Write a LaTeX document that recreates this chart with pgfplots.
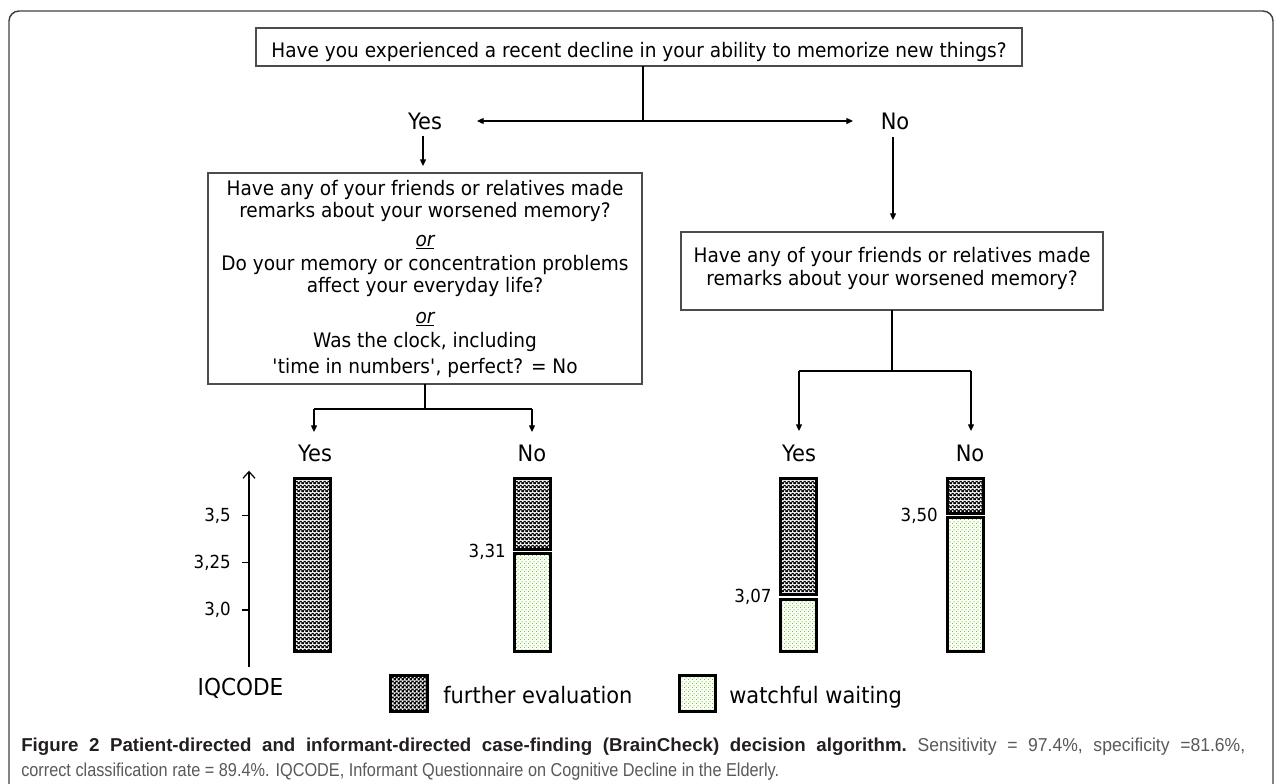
\documentclass[border=0pt]{standalone}
\usepackage{pgfplots}
\pgfplotsset{compat=1.18}
\usepackage{graphicx}
\usepackage{fontspec}
\setmainfont{DejaVu Sans}[FakeStretch=0.925]
\newfontfamily\capfont{Liberation Sans}[FakeStretch=0.85]
\usetikzlibrary{patterns,arrows.meta}

\definecolor{dotgreen}{RGB}{110,200,30}
\definecolor{capdark}{RGB}{35,31,32}
\definecolor{capgray}{RGB}{88,89,91}

\pgfdeclarepatterninherentlycolored{chk}{\pgfpointorigin}{\pgfqpoint{3pt}{3pt}}{\pgfqpoint{3pt}{3pt}}{%
  \pgfsetfillcolor{black}\pgfpathrectangle{\pgfpointorigin}{\pgfqpoint{3pt}{3pt}}\pgfusepath{fill}%
  \pgfsetfillcolor{white}\pgfpathrectangle{\pgfqpoint{0.15pt}{0.15pt}}{\pgfqpoint{1.25pt}{1.25pt}}%
  \pgfpathrectangle{\pgfqpoint{1.65pt}{1.65pt}}{\pgfqpoint{1.25pt}{1.25pt}}\pgfusepath{fill}}

\pgfdeclarepatternformonly{gdots}{\pgfpointorigin}{\pgfqpoint{3pt}{3pt}}{\pgfqpoint{3pt}{3pt}}{%
  \pgfpathrectangle{\pgfpointorigin}{\pgfqpoint{0.9pt}{0.9pt}}%
  \pgfpathrectangle{\pgfqpoint{1.5pt}{1.5pt}}{\pgfqpoint{0.9pt}{0.9pt}}\pgfusepath{fill}}

\newcommand\txt{\fontsize{15pt}{18pt}\selectfont}
\newcommand\yn{\fontsize{17pt}{20pt}\selectfont}
\newcommand\tl{\fontsize{13.5pt}{16pt}\selectfont}
\newcommand\capsz{\capfont\fontsize{14pt}{17pt}\selectfont}
\newcommand\lineTwo{correct classification rate = 89.4\%. IQCODE, Informant Questionnaire on Cognitive Decline in the Elderly.}
\newcommand\bw[1]{\scalebox{1.15}[1]{\textcolor{capdark}{\bfseries #1}}}
\newcommand\nw[1]{\scalebox{1.08}[1]{\textcolor{capgray}{#1}}}
\newlength\capw

\begin{document}
\settowidth\capw{\capsz\lineTwo}%
\pgfmathsetmacro\capr{568.5/\capw}%
\pgfmathsetlengthmacro\capWone{918pt/\capr}%
\begin{tikzpicture}
\begin{scope}[x=0.75pt,y=-0.75pt,
  boxc/.style={line width=0.9pt, draw=black!70},
  conn/.style={line width=0.9pt, black},
  arr/.style={conn, -{Triangle[length=5pt,width=4.5pt]}},
  lab/.style={anchor=base, inner sep=0pt, font=\txt}]
\path[use as bounding box] (0,0) rectangle (1282,783);
% frame
\draw[line width=1.1pt, black!75, rounded corners=7.5pt] (9,820) -- (9,11) -- (1273,11) -- (1273,820);

% top question
\draw[boxc] (256,28) rectangle (1022,66);
\node[lab] at (639,57.3) {Have you experienced a recent decline in your ability to memorize new things?};
\draw[conn] (643,66) -- (643,121);
\draw[arr] (643,121) -- (477,121);
\draw[arr] (643,121) -- (853,121);
\node[anchor=base, inner sep=0pt, font=\yn] at (425,129) {Yes};
\node[anchor=base, inner sep=0pt, font=\yn] at (895,129) {No};
\draw[arr] (423,136) -- (423,166);
\draw[arr] (893,137) -- (893,220);

% left box
\draw[boxc] (208,173) rectangle (642,384);
\node[lab] at (425,195) {Have any of your friends or relatives made};
\node[lab] at (425,217) {remarks about your worsened memory?};
\node[lab] at (425,246) {\underline{\itshape or}};
\node[lab] at (425,270) {Do your memory or concentration problems};
\node[lab] at (425,292) {affect your everyday life?};
\node[lab] at (425,323) {\underline{\itshape or}};
\node[lab] at (425,347) {Was the clock, including};
\node[lab] at (425,373) {\textquotesingle time in numbers\textquotesingle, perfect? = No};

% right box
\draw[boxc] (681,232) rectangle (1103,310);
\node[lab] at (892,262) {Have any of your friends or relatives made};
\node[lab] at (892,285) {remarks about your worsened memory?};

% lower connectors
\draw[conn] (425,384) -- (425,409);
\draw[conn] (314,409) -- (532,409);
\draw[arr] (314,409) -- (314,432);
\draw[arr] (532,409) -- (532,432);
\draw[conn] (892,310) -- (892,371);
\draw[conn] (799,371) -- (971,371);
\draw[arr] (799,371) -- (799,431);
\draw[arr] (971,371) -- (971,431);
\node[anchor=base, inner sep=0pt, font=\yn] at (315,461) {Yes};
\node[anchor=base, inner sep=0pt, font=\yn] at (532,461) {No};
\node[anchor=base, inner sep=0pt, font=\yn] at (799,461) {Yes};
\node[anchor=base, inner sep=0pt, font=\yn] at (970,461) {No};

\node[anchor=base, inner sep=0pt, font=\fontsize{17.5pt}{20pt}\selectfont] at (240.5,695) {IQCODE};

% legend
\draw[line width=2.25pt, pattern=chk] (390.5,675.5) rectangle (427.5,711.5);
\node[anchor=base west, inner sep=0pt, font=\fontsize{17pt}{20pt}\selectfont] at (443,703.3) {further evaluation};
\draw[line width=2.25pt, pattern=gdots, pattern color=dotgreen] (679.2,675.5) rectangle (715.8,711.5);
\node[anchor=base west, inner sep=0pt, font=\fontsize{17pt}{20pt}\selectfont] at (729,703.3) {watchful waiting};

% caption (first line justified to full width)
\node[anchor=base west, inner sep=0pt, font=\capsz] at (21,751)
  {\scalebox{\capr}[1]{\makebox[\capWone][s]{\bw{Figure} \bw{2} \bw{Patient-directed} \bw{and} \bw{informant-directed} \bw{case-finding} \bw{(BrainCheck)} \bw{decision} \bw{algorithm.} \nw{Sensitivity} \nw{=} \nw{97.4\%,} \nw{specificity} \nw{=81.6\%,}}}};
\node[anchor=base west, inner sep=0pt, font=\capsz, text=capgray] at (21,776)
  {\scalebox{\capr}[1]{\lineTwo}};
\end{scope}

% IQCODE bars (pixel 249,666.7 -> pt)
\begin{axis}[
  at={(186.75pt,-500.025pt)}, anchor=south west,
  x=0.75pt, y=141.75pt,
  xmin=249, xmax=1000, ymin=2.70, ymax=3.737,
  axis x line=none, axis y line=left,
  y axis line style={line width=0.9pt, black, -{Straight Barb[length=5pt,width=9pt]}},
  xtick=\empty,
  ytick={3.0,3.25,3.5}, yticklabels={{3,0},{3,25},{3,5}},
  tick align=outside, major tick length=5.25pt,
  tick style={line width=0.9pt, black},
  yticklabel style={font=\tl, inner sep=0pt, anchor=east, xshift=-8.25pt},
  ybar stacked, bar width=36,
  clip=false,
]
% invisible base up to the bottom of the bars
\addplot[draw=none, fill=none] coordinates {(312.8,2.783) (532.8,2.783) (798.3,2.783) (965,2.783)};
% watchful waiting (lower segment)
\addplot[draw=black, line width=2.25pt, pattern=gdots, pattern color=dotgreen] coordinates {(312.8,0) (532.8,0.515) (798.3,0.275) (965,0.705)};
% small white gap between segments
\addplot[draw=none, fill=none] coordinates {(312.8,0) (532.8,0.024) (798.3,0.024) (965,0.024)};
% further evaluation (upper segment)
\addplot[draw=black, line width=2.25pt, pattern=chk] coordinates {(312.8,0.914) (532.8,0.375) (798.3,0.615) (965,0.185)};
\node[anchor=east, inner sep=0pt, font=\tl] at (axis cs:506,3.31) {3,31};
\node[anchor=east, inner sep=0pt, font=\tl] at (axis cs:771.8,3.07) {3,07};
\node[anchor=east, inner sep=0pt, font=\tl] at (axis cs:938,3.50) {3,50};
\end{axis}
\end{tikzpicture}
\end{document}
